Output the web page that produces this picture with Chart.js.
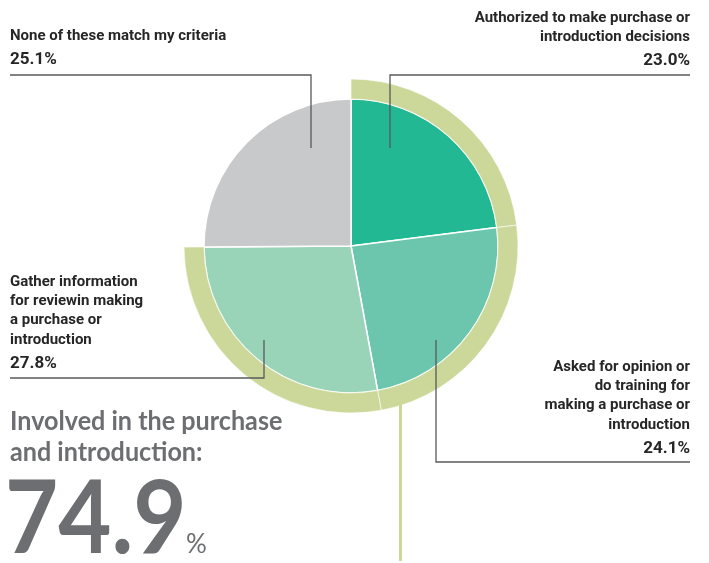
<!DOCTYPE html>
<html>
<head>
<meta charset="utf-8">
<script src="https://cdn.jsdelivr.net/npm/chart.js@4"></script>
<style>
  html, body { margin: 0; padding: 0; background: #fff; }
  #wrap { position: relative; width: 709px; height: 563px; overflow: hidden; }
  #pie { position: absolute; left: 0; top: 0; }
  .txt { position: absolute; white-space: nowrap; }
</style>
</head>
<body>
<div id="wrap">
  <canvas id="pie" width="709" height="563"></canvas>
</div>
<script>
// respondents' role in purchase / introduction decisions
const categories = [
  ['Authorized to make purchase or', 'introduction decisions'],
  ['Asked for opinion or', 'do training for', 'making a purchase or', 'introduction'],
  ['Gather information', 'for reviewin making', 'a purchase or', 'introduction'],
  ['None of these match my criteria']
];
const shares = [23.0, 24.1, 27.8, 25.1];
const involved = [true, true, true, false];
const headline = ['Involved in the purchase', 'and introduction:'];

const sliceColors = ['#22b893', '#6cc6ae', '#9ad4b8', '#c8c9cb'];
const ringColor = '#ccd899';
const inkColor = '#262626';
const greyInk = '#6d6e71';

// where each label block and its leader line sit
const labelLayout = [
  { x: 690, align: 'right', base: 22, leader: [[390, 148], [390, 75], [690, 75]] },
  { x: 690, align: 'right', base: 371, leader: [[436, 340], [436, 462], [690, 462]] },
  { x: 10, align: 'left', base: 286, leader: [[264, 340], [264, 378], [10, 378]] },
  { x: 10, align: 'left', base: 40, leader: [[311, 148], [311, 75], [10, 75]] }
];

const wrap = document.getElementById('wrap');
const fonts = {
  label: { family: 'Roboto, "Noto Sans", sans-serif', ascent: 0.928, descent: 0.244 },
  big: { family: 'Lato, "Noto Sans", sans-serif', ascent: 0.987, descent: 0.213 }
};

// put a line of text so its baseline lands on y
function placeText(str, x, baseline, opts) {
  const f = fonts[opts.font || 'label'];
  const size = opts.size;
  const lh = Math.round(size * 1.3);
  const el = document.createElement('div');
  el.className = 'txt';
  el.textContent = str;
  el.style.fontFamily = f.family;
  el.style.fontSize = size + 'px';
  el.style.lineHeight = lh + 'px';
  el.style.fontWeight = opts.weight || 700;
  el.style.color = opts.color || inkColor;
  const base = lh / 2 + (f.ascent - f.descent) / 2 * size;
  el.style.top = (baseline - base) + 'px';
  if (opts.align === 'right') {
    el.style.right = (709 - x) + 'px';
  } else {
    el.style.left = x + 'px';
  }
  if (opts.scaleX) {
    el.style.transform = 'scaleX(' + opts.scaleX + ')';
    el.style.transformOrigin = opts.align === 'right' ? 'right bottom' : 'left bottom';
  }
  wrap.appendChild(el);
  return el;
}

categories.forEach((lines, i) => {
  const lay = labelLayout[i];
  lines.forEach((line, j) => {
    placeText(line, lay.x, lay.base + j * 19.3, { size: 15, align: lay.align });
  });
  const pctBase = lay.base + (lines.length - 1) * 19.3 + 23.5;
  placeText(shares[i].toFixed(1) + '%', lay.x, pctBase, { size: 17, align: lay.align });
});

const involvedTotal = shares.reduce((s, v, i) => involved[i] ? s + v : s, 0);
placeText(headline[0], 10, 431, { font: 'big', size: 27.5, color: greyInk, scaleX: 0.915 });
placeText(headline[1], 10, 462, { font: 'big', size: 27.5, color: greyInk, scaleX: 0.915 });
placeText(involvedTotal.toFixed(1), 5, 553, { font: 'big', size: 102, color: greyInk, scaleX: 0.9 });
placeText('%', 186, 553, { font: 'big', size: 26, weight: 400, color: greyInk });

// leader lines plus the stem hanging off the ring
const leaderLines = {
  id: 'leaderLines',
  afterDatasetsDraw(chart) {
    const c = chart.ctx;
    c.save();
    c.strokeStyle = '#58595b';
    c.lineWidth = 1.3;
    labelLayout.forEach(lay => {
      c.beginPath();
      lay.leader.forEach((p, k) => k ? c.lineTo(p[0], p[1]) : c.moveTo(p[0], p[1]));
      c.stroke();
    });
    const arc = chart.getDatasetMeta(0).data[0];
    const stemX = 400.5;
    const dx = stemX - arc.x;
    const startY = arc.y + Math.sqrt(arc.outerRadius * arc.outerRadius - dx * dx) - 2;
    c.strokeStyle = ringColor;
    c.lineWidth = 3;
    c.beginPath();
    c.moveTo(stemX, startY);
    c.lineTo(stemX, 561);
    c.stroke();
    c.restore();
  }
};

new Chart(document.getElementById('pie'), {
  type: 'pie',
  data: {
    labels: categories.map(l => l.join(' ')),
    datasets: [
      {
        // outer band over the "involved" answers
        data: shares,
        backgroundColor: involved.map(f => f ? ringColor : 'rgba(0,0,0,0)'),
        borderColor: involved.map(f => f ? 'rgba(255,255,255,0.6)' : 'rgba(0,0,0,0)'),
        borderWidth: 1,
        weight: 20
      },
      {
        data: shares,
        backgroundColor: sliceColors,
        borderColor: '#ffffff',
        borderWidth: 1.5,
        weight: 147
      }
    ]
  },
  options: {
    responsive: false,
    animation: false,
    events: [],
    radius: 167,
    hoverOffset: 0,
    layout: { padding: { left: 0, right: 7, top: 0, bottom: 71 } },
    plugins: {
      legend: { display: false },
      tooltip: { enabled: false }
    }
  },
  plugins: [leaderLines]
});
</script>
</body>
</html>
